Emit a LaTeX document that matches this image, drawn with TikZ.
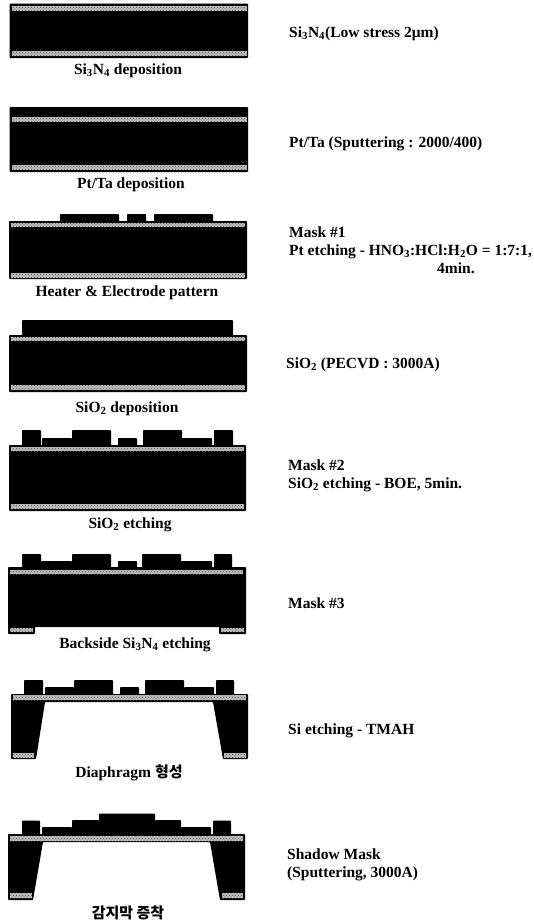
\documentclass[tikz,border=0pt]{standalone}
\usepackage{fontspec}
\setmainfont{Liberation Serif}
\newfontfamily\krfont{Noto Sans CJK KR}
\usepackage{tikz}
\usetikzlibrary{patterns}

\begin{document}
\begin{tikzpicture}[x=1pt,y=-1pt,
    film/.style={fill=black,rounded corners=0.8pt},
    band/.style={fill=black!25,postaction={pattern=crosshatch dots,pattern color=black!70}},
    lab/.style={font=\bfseries\fontsize{15.5}{18}\selectfont,inner sep=0pt,anchor=base},
    note/.style={lab,anchor=base west}]

\useasboundingbox (0,0) rectangle (533,924);

% Si3N4 deposition
\fill[film] (9.5,3.5) rectangle (248,58);
\fill[band] (11.5,5.5) rectangle (246.5,10.5);
\fill[band] (11.5,51) rectangle (246.5,56);
\node[lab] (capNitride) at (128,74) {Si\textsubscript{3}N\textsubscript{4} deposition};
\node[note] (noteNitride) at (289,37) {Si\textsubscript{3}N\textsubscript{4}(Low stress 2μm)};

% Pt/Ta deposition
\fill[film] (9.5,107) rectangle (248,172);
\fill[band] (11.5,116.5) rectangle (246.5,121.5);
\fill[band] (11.5,165) rectangle (246.5,170);
\node[lab] (capMetal) at (131,188) {Pt/Ta deposition};
\node[note] (noteMetal) at (289,147) {Pt/Ta (Sputtering : 2000/400)};

% Heater & Electrode pattern
\fill[film] (9,221) rectangle (247,279);
\foreach \a/\b in {60/119,127/146,154/213}{
    \fill[film] (\a,214) rectangle (\b,222);
}
\fill[band] (11,222.5) rectangle (245,227);
\fill[band] (11,273) rectangle (245,278);
\node[lab] (capHeater) at (127,296) {Heater \& Electrode pattern};
\node[note] (noteMaskA) at (289,237) {Mask \#1};
\node[note] (noteEtchA) at (289,255) {Pt etching - HNO\textsubscript{3}:HCl:H\textsubscript{2}O = 1:7:1,};
\node[note] (noteTimeA) at (437,273) {4min.};

% SiO2 deposition
\fill[film] (22,320) rectangle (233,336);
\fill[film] (9,335) rectangle (247,392);
\fill[band] (11,336.5) rectangle (245,341);
\fill[band] (11,385) rectangle (245,390);
\node[lab] (capOxide) at (127,412) {SiO\textsubscript{2} deposition};
\node[note] (noteOxide) at (286,368) {SiO\textsubscript{2} (PECVD : 3000A)};

% SiO2 etching
\fill[film] (9,445) rectangle (246,511);
\foreach \a/\b/\t in {22/41/430,42/72/438,72/111/430,118/137/438,143/182/430,182/212/438,214/233/430}{
    \fill[film] (\a,\t) rectangle (\b,446);
}
\fill[band] (11,447) rectangle (244,451);
\fill[band] (11,504) rectangle (244,509);
\node[lab] (capOxideEtch) at (130,528) {SiO\textsubscript{2} etching};
\node[note] (noteMaskB) at (288,470) {Mask \#2};
\node[note] (noteEtchB) at (288,488) {SiO\textsubscript{2} etching - BOE, 5min.};

% Backside Si3N4 etching
\fill[film] (8,567) rectangle (246,627);
\fill[film] (8,626) rectangle (35,634);
\fill[film] (219,626) rectangle (246,634);
\foreach \a/\b/\t in {22/41/554,41/72/561,72/111/554,118/137/561,142/181/554,181/212/561,214/232/554}{
    \fill[film] (\a,\t) rectangle (\b,568);
}
\fill[band] (10,570) rectangle (243,574);
\fill[band] (10,628) rectangle (33,632);
\fill[band] (221,628) rectangle (244,632);
\node[lab] (capBack) at (135,648) {Backside Si\textsubscript{3}N\textsubscript{4} etching};
\node[note] (noteMaskC) at (288,608) {Mask \#3};

% Diaphragm
\fill[film] (11,694) -- (248,694) -- (248,759) -- (223,759) -- (213,702)
    -- (45,702) -- (36,759) -- (11,759) -- cycle;
\foreach \a/\b/\t in {24/43/680,45/74/687,74/113/680,120/139/687,145/184/680,184/214/687,216/234/680}{
    \fill[film] (\a,\t) rectangle (\b,695);
}
\fill[band] (13,695) rectangle (246,700);
\fill[band] (12.5,752.5) rectangle (34,758);
\fill[band] (224,752.5) rectangle (246,758);
\node[lab] (capDiaphragm) at (129,777) {Diaphragm {\krfont\fontsize{15}{18}\selectfont 형성}};
\node[note] (noteSi) at (288,734) {Si etching - TMAH};

% Sensing film
\fill[film] (8,834) -- (245,834) -- (245,900) -- (220,900) -- (210,842)
    -- (43,842) -- (33,900) -- (8,900) -- cycle;
\foreach \a/\b/\t in {22/40/820.5,42/72/827,72/99/820,99/155/813.5,155/181/820,181/211/827,213/231/820.5}{
    \fill[film] (\a,\t) rectangle (\b,835);
}
\fill[band] (10,836) rectangle (243,841);
\fill[band] (10,893) rectangle (32,898);
\fill[band] (222,893) rectangle (243,898);
\node[lab] (capSensing) at (128,918) {{\krfont\fontsize{15}{18}\selectfont 감지막 증착}};
\node[note] (noteShadow) at (287,859) {Shadow Mask};
\node[note] (noteSputter) at (287,877) {(Sputtering, 3000A)};

\end{tikzpicture}
\end{document}
